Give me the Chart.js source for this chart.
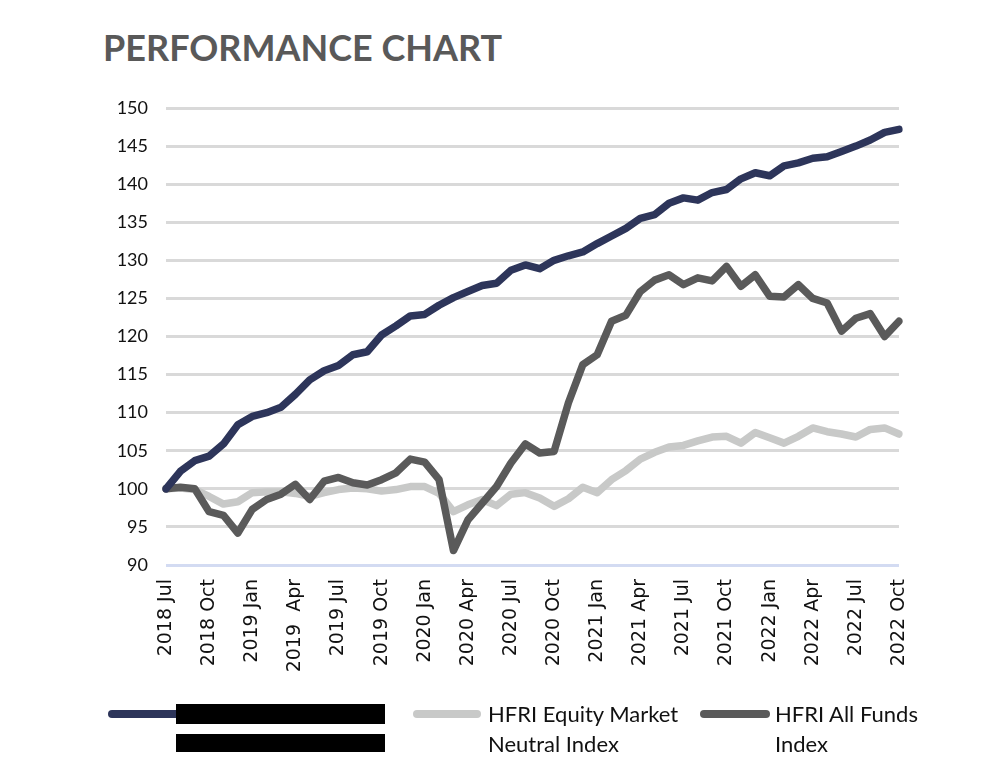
<!DOCTYPE html>
<html>
<head>
<meta charset="utf-8">
<script src="https://cdn.jsdelivr.net/npm/chart.js@4"></script>
<style>
  body { margin: 0; background: #fff; width: 996px; height: 778px; position: relative; overflow: hidden; }
  #title { position: absolute; left: 103px; top: 25px; font: bold 36px Lato, sans-serif; color: #595959; }
  #wrap { position: absolute; left: 0; top: 0; width: 996px; height: 700px; }
  .leg { position: absolute; font: 22px Lato, sans-serif; color: #111; line-height: 30px; }
  .swatch { position: absolute; height: 8px; border-radius: 4px; }
  .redact { position: absolute; background: #000; }
</style>
</head>
<body>
<div id="title">PERFORMANCE CHART</div>
<div id="wrap"><canvas id="perfChart" width="996" height="700"></canvas></div>

<div class="swatch" style="left:108px; top:710px; width:72px; background:#2d355a;"></div>
<div class="redact" style="left:176px; top:704px; width:209px; height:20px;"></div>
<div class="redact" style="left:176px; top:734px; width:209px; height:18px;"></div>

<div class="swatch" style="left:413px; top:710px; width:68px; background:#c8c9c8;"></div>
<div class="leg" style="left:488px; top:699px;">HFRI Equity Market<br>Neutral Index</div>

<div class="swatch" style="left:700px; top:710px; width:70px; background:#5a5a5a;"></div>
<div class="leg" style="left:775px; top:699px;">HFRI All Funds<br>Index</div>

<script>
// monthly, 2018 Jul .. 2022 Oct
const months = ['Jan', 'Feb', 'Mar', 'Apr', 'May', 'Jun', 'Jul', 'Aug', 'Sep', 'Oct', 'Nov', 'Dec'];
const labels = [];
for (let i = 0; i < 52; i++) {
    const m = (6 + i) % 12;
    const y = 2018 + Math.floor((6 + i) / 12);
    labels.push(y + ' ' + months[m]);
}
// the 2019 Apr label has a double space in the original
labels[9] = '2019  Apr';

const fundValues = [
    100.0, 102.3, 103.7, 104.3, 105.9, 108.4, 109.5, 110.0, 110.7, 112.4,
    114.3, 115.5, 116.2, 117.6, 118.0, 120.2, 121.4, 122.7, 122.9, 124.1,
    125.1, 125.9, 126.7, 127.0, 128.7, 129.4, 128.9, 130.0, 130.6, 131.1,
    132.2, 133.2, 134.2, 135.5, 136.0, 137.5, 138.2, 137.9, 138.9, 139.3,
    140.7, 141.5, 141.1, 142.4, 142.8, 143.4, 143.6, 144.3, 145.0, 145.8,
    146.8, 147.2
];
const emnValues = [
    100.0, 100.1, 99.9, 99.0, 98.0, 98.3, 99.5, 99.6, 99.6, 99.4,
    99.0, 99.5, 99.9, 100.1, 100.0, 99.7, 99.9, 100.3, 100.3, 99.4,
    97.0, 97.9, 98.6, 97.8, 99.3, 99.5, 98.8, 97.7, 98.7, 100.2,
    99.5, 101.2, 102.4, 103.9, 104.8, 105.5, 105.7, 106.3, 106.8, 106.9,
    106.0, 107.4, 106.7, 106.0, 106.9, 108.0, 107.5, 107.2, 106.8, 107.8,
    108.0, 107.2
];
const allFundsValues = [
    100.0, 100.2, 100.0, 97.0, 96.5, 94.2, 97.3, 98.6, 99.3, 100.6,
    98.6, 101.0, 101.5, 100.8, 100.5, 101.2, 102.1, 103.9, 103.5, 101.2,
    91.9, 95.9, 98.1, 100.3, 103.4, 105.9, 104.7, 104.9, 111.3, 116.3,
    117.6, 122.0, 122.8, 125.9, 127.4, 128.1, 126.8, 127.7, 127.3, 129.2,
    126.6, 128.1, 125.3, 125.2, 126.8, 125.0, 124.4, 120.7, 122.4, 123.0,
    120.0, 122.0
];
const yMin = 90, yMax = 150, yStep = 5;

const ctx = document.getElementById('perfChart').getContext('2d');

const lineStyle = { borderWidth: 7.5, pointRadius: 0, tension: 0, borderJoinStyle: 'round', borderCapStyle: 'round' };

new Chart(ctx, {
    type: 'line',
    data: {
        labels: labels,
        datasets: [
            { label: 'Fund', data: fundValues, borderColor: '#2d355a', ...lineStyle },
            { label: 'HFRI All Funds Index', data: allFundsValues, borderColor: '#5a5a5a', ...lineStyle },
            { label: 'HFRI Equity Market Neutral Index', data: emnValues, borderColor: '#c8c9c8', ...lineStyle }
        ]
    },
    options: {
        responsive: false,
        animation: false,
        devicePixelRatio: 1,
        layout: { padding: { left: 100, right: 97, top: 108, bottom: 15 } },
        plugins: { legend: { display: false }, tooltip: { enabled: false } },
        scales: {
            x: {
                afterFit: s => { s.height = 120; },
                grid: { display: false, drawTicks: false },
                border: { display: false },
                ticks: {
                    autoSkip: false,
                    minRotation: 90,
                    maxRotation: 90,
                    padding: 14,
                    color: '#111',
                    font: { family: "'DejaVu Sans', sans-serif", size: 19 },
                    callback: (v, i) => (i % 3 === 0 ? labels[i] : '')
                }
            },
            y: {
                min: yMin,
                max: yMax,
                afterFit: s => { s.width = 66; },
                grid: {
                    drawTicks: false,
                    lineWidth: 3,
                    color: c => (c.tick && c.tick.value === yMin ? '#d3dbf2' : '#d9d9d9')
                },
                border: { display: false },
                ticks: {
                    stepSize: yStep,
                    padding: 18,
                    color: '#111',
                    font: { family: 'Lato', size: 18 }
                }
            }
        }
    }
});
</script>
</body>
</html>
